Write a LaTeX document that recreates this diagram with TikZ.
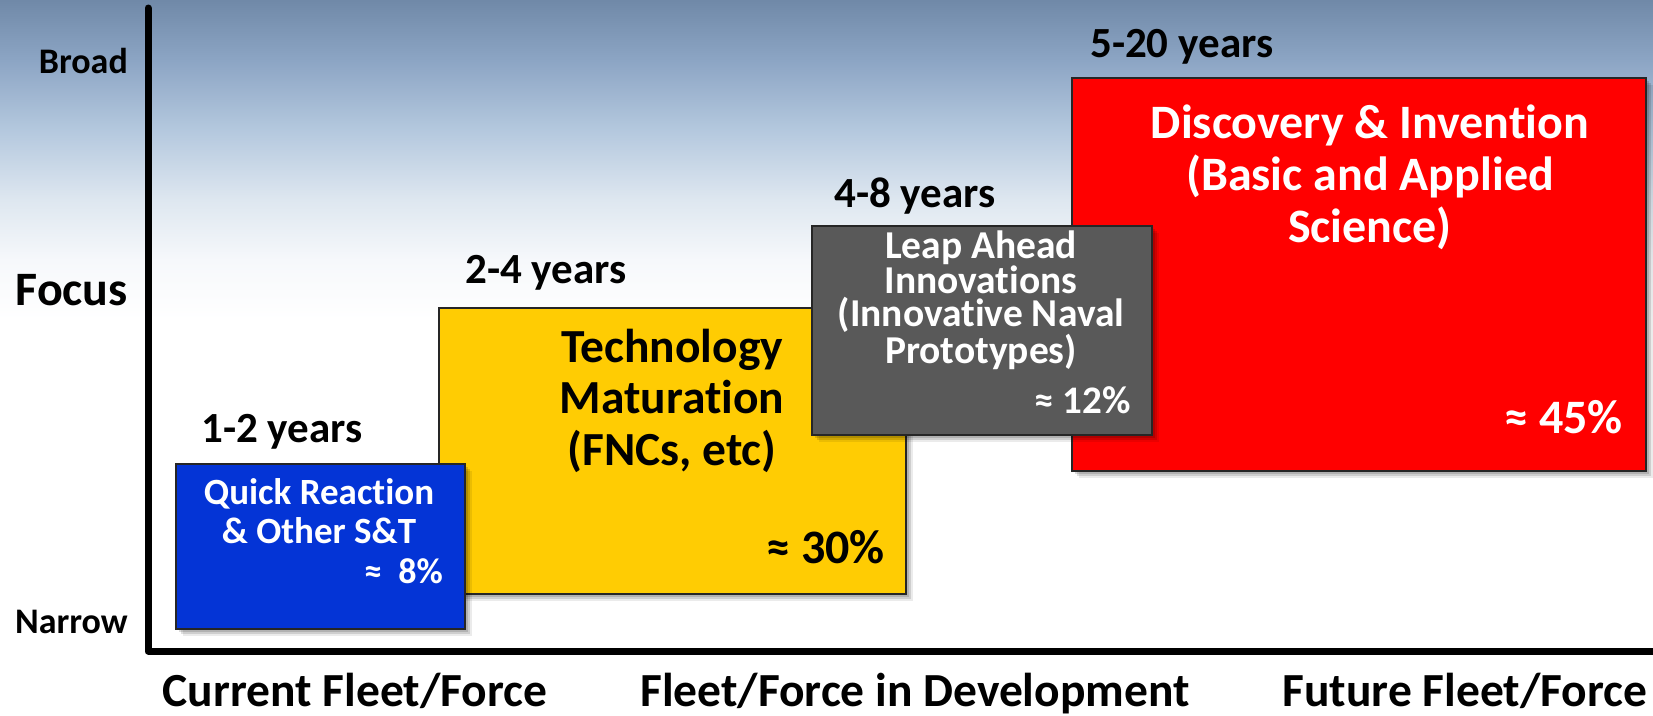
\documentclass[tikz,border=0pt]{standalone}
\usepackage{fontspec}
\setmainfont{Carlito}[Ligatures=NoCommon]
\usetikzlibrary{shadows}
\definecolor{qblue}{RGB}{4,52,214}
\definecolor{tyellow}{RGB}{255,204,3}
\definecolor{lgray}{RGB}{89,89,89}
\definecolor{dred}{RGB}{255,0,0}
\definecolor{sky0}{RGB}{112,137,168}
\definecolor{sky1}{RGB}{140,165,196}
\definecolor{sky2}{RGB}{180,200,222}
\definecolor{sky3}{RGB}{222,231,240}
\definecolor{sky4}{RGB}{246,248,251}
\pgfdeclareverticalshading{sky}{100bp}{color(0bp)=(white); color(25bp)=(white); color(34.4bp)=(sky4); color(43.75bp)=(sky3); color(54.7bp)=(sky2); color(65.6bp)=(sky1); color(75bp)=(sky0); color(100bp)=(sky0)}
\newcommand{\fs}[2]{\fontsize{#1}{#2}\selectfont\bfseries}
\tikzset{
  box/.style={draw=black!85, line width=1.5pt, inner sep=0pt, anchor=north west,
    drop shadow={shadow xshift=3pt, shadow yshift=-3pt, fill=black, opacity=0.14},
    drop shadow={shadow xshift=5pt, shadow yshift=-5pt, fill=black, opacity=0.12},
    drop shadow={shadow xshift=7pt, shadow yshift=-7pt, fill=black, opacity=0.08}},
  txt/.style={inner sep=0pt, anchor=base},
  blk/.style={inner sep=0pt, anchor=base, align=center},
  axisline/.style={line width=7pt, black, line join=round, line cap=round},
}
\begin{document}
\begin{tikzpicture}[x=1pt,y=-1pt]
\useasboundingbox (0,0) rectangle (1653,715);
\shade[shading=sky] (0,0) rectangle (1653,320);
% axes
\coordinate (ytop) at (148,8);
\coordinate (orig) at (148,651);
\coordinate (xend) at (1653,651);
\draw[axisline] (ytop) -- (orig) -- (xend);
% axis labels
\node[txt, anchor=base east, font={\fs{36}{36}}] (broad) at (128,73) {Broad};
\node[txt, anchor=base east, font={\fs{48}{48}}] (focus) at (128,305) {Focus};
\node[txt, anchor=base east, font={\fs{36}{36}}] (narrow) at (128,633) {Narrow};
\node[txt, font={\fs{47.5}{47.5}}] (cur) at (355,706) {Current Fleet/Force};
\node[txt, font={\fs{47.5}{47.5}}] (dev) at (915,706) {Fleet/Force in Development};
\node[txt, font={\fs{47.5}{47.5}}] (fut) at (1465,706) {Future Fleet/Force};
% boxes
\node[box, fill=dred, minimum width=574pt, minimum height=393pt] (red) at (1071,77) {};
\node[box, fill=tyellow, minimum width=467pt, minimum height=286pt] (yel) at (438,307) {};
\node[box, fill=lgray, minimum width=340pt, minimum height=209pt] (gry) at (811,225) {};
\node[box, fill=qblue, minimum width=289pt, minimum height=165pt] (blu) at (175,463) {};
% year labels
\node[txt, anchor=base west, font={\fs{43}{43}}] (y12) at (201,442) {1-2 years};
\node[txt, anchor=base west, font={\fs{43}{43}}] (y24) at (465,283) {2-4 years};
\node[txt, anchor=base west, font={\fs{43}{43}}] (y48) at (834,207) {4-8 years};
\node[txt, anchor=base west, font={\fs{43}{43}}] (y520) at (1090,57) {5-20 years};
% box texts (base anchor = baseline of last line)
\node[blk, text=white, font={\fs{37}{39}}] (btxt) at (319,543) {Quick Reaction\\ \& Other S\&T};
\node[txt, text=white, anchor=base east, font={\fs{36}{36}}] (bp) at (443,583) {≈\hspace{0.45em}8\%};
\node[blk, text=white, font={\fs{39.5}{33.7}}] (gtxt) at (981,363) {Leap Ahead\\Innovations\\(Innovative Naval\\Prototypes)};
\node[txt, text=white, anchor=base east, font={\fs{39}{39}}] (gp) at (1131,413) {≈ 12\%};
\node[blk, text=white, font={\fs{48}{52}}] (rtxt) at (1370,242) {Discovery \& Invention\\(Basic and Applied\\Science)};
\node[txt, text=white, anchor=base east, font={\fs{48}{48}}] (rp) at (1623,433) {≈ 45\%};
\node[blk, font={\fs{47.5}{51.5}}] (ttxt) at (672,465) {Technology\\Maturation\\(FNCs, etc)};
\node[txt, anchor=base east, font={\fs{48}{48}}] (tp) at (885,563) {≈ 30\%};
\end{tikzpicture}
\end{document}
